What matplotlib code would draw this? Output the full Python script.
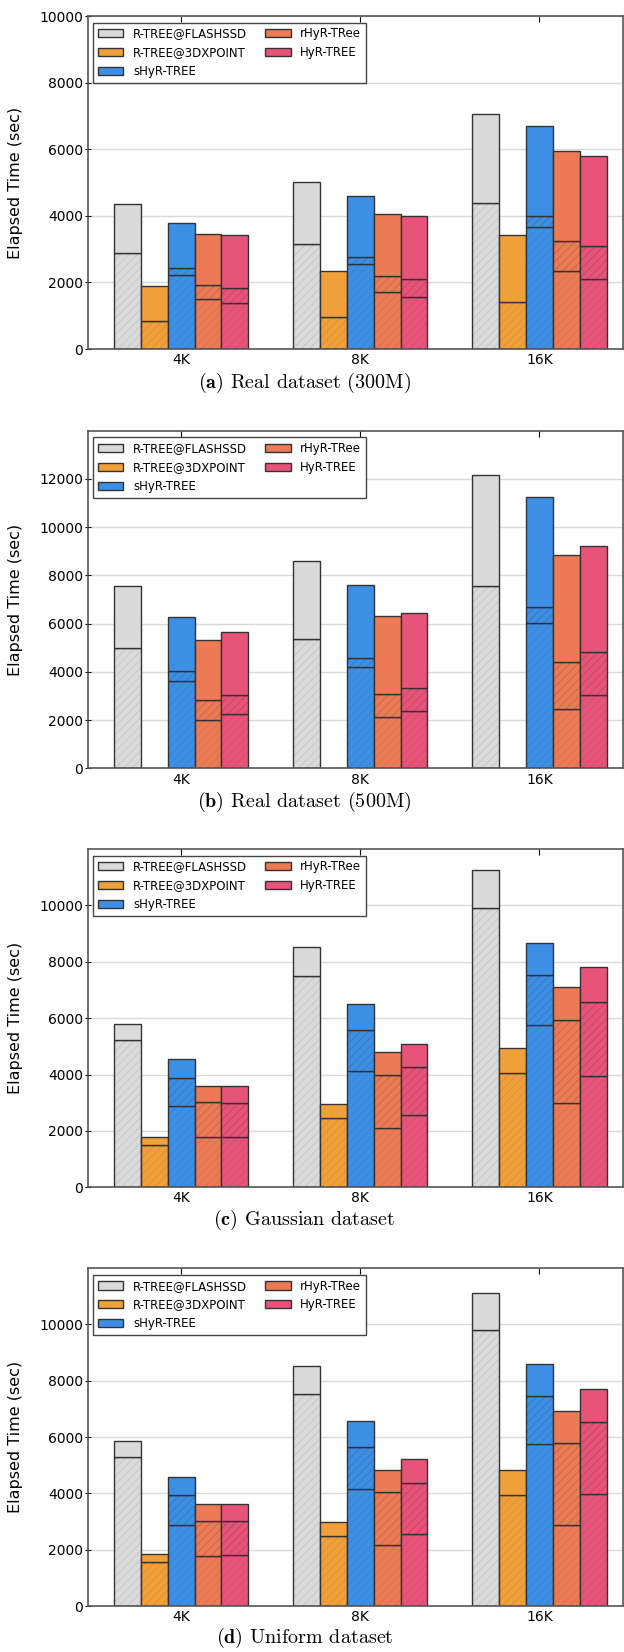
import numpy as np
import matplotlib.pyplot as plt
from matplotlib.patches import Patch

plt.rcParams['mathtext.fontset'] = 'cm'
plt.rcParams['hatch.linewidth'] = 0.8

sizes = ['4K', '8K', '16K']
names = ['R-TREE@FLASHSSD', 'R-TREE@3DXPOINT', 'sHyR-TREE', 'rHyR-TRee', 'HyR-TREE']
colors = ['#dadada', '#f0a03a', '#3d8fe5', '#eb7a55', '#e8537a']
captions = [r'$\mathbf{(a)}$ Real dataset (300M)', r'$\mathbf{(b)}$ Real dataset (500M)',
            r'$\mathbf{(c)}$ Gaussian dataset', r'$\mathbf{(d)}$ Uniform dataset']

# rows: FLASHSSD, 3DXPOINT, sHyR, rHyR, HyR ; columns: 4K, 8K, 16K
# lo = lower segment top, mid = hatched segment top, tot = bar total
a_lo = [[2880, 3150, 4380], [850, 950, 1410], [2230, 2560, 3670], [1500, 1700, 2330], [1380, 1550, 2100]]
a_mid = [[2880, 3150, 4380], [850, 950, 1410], [2430, 2760, 4010], [1910, 2200, 3240], [1820, 2100, 3090]]
a_tot = [[4360, 5030, 7070], [1890, 2330, 3420], [3790, 4600, 6710], [3460, 4050, 5950], [3430, 4010, 5800]]

b_lo = [[5000, 5380, 7550], [0, 0, 0], [3640, 4200, 6040], [2020, 2120, 2480], [2240, 2380, 3060]]
b_mid = [[5000, 5380, 7550], [0, 0, 0], [4040, 4590, 6690], [2830, 3100, 4410], [3030, 3350, 4840]]
b_tot = [[7560, 8590, 12150], [0, 0, 0], [6280, 7600, 11230], [5340, 6300, 8830], [5640, 6420, 9220]]

c_lo = [[5210, 7500, 9890], [1510, 2450, 4060], [2900, 4120, 5770], [1800, 2110, 3000], [1800, 2550, 3960]]
c_mid = [[5210, 7500, 9890], [1510, 2450, 4060], [3890, 5590, 7540], [3030, 3970, 5930], [3000, 4250, 6580]]
c_tot = [[5800, 8530, 11270], [1780, 2960, 4930], [4550, 6490, 8670], [3610, 4800, 7100], [3600, 5090, 7820]]

d_lo = [[5290, 7540, 9790], [1570, 2500, 3940], [2870, 4140, 5760], [1770, 2180, 2870], [1820, 2570, 3990]]
d_mid = [[5290, 7540, 9790], [1570, 2500, 3940], [3930, 5660, 7460], [3030, 4050, 5800], [3030, 4370, 6530]]
d_tot = [[5870, 8540, 11130], [1850, 2990, 4820], [4590, 6580, 8580], [3640, 4840, 6930], [3640, 5220, 7720]]

panels = [(a_lo, a_mid, a_tot), (b_lo, b_mid, b_tot), (c_lo, c_mid, c_tot), (d_lo, d_mid, d_tot)]
ylims = [10000, 14000, 12000, 12000]
ytop = [10000, 12000, 10000, 10000]

fig = plt.figure(figsize=(6.24, 16.52), dpi=100)
ax_boxes = [[0.141, 0.7887, 0.8574, 0.2016],
            [0.141, 0.5349, 0.8574, 0.2044],
            [0.141, 0.2813, 0.8574, 0.2048],
            [0.141, 0.0278, 0.8574, 0.2046]]
cap_y = [0.7682, 0.5147, 0.2615, 0.0085]

ind = np.arange(len(sizes))
width = 0.15

for p in range(4):
    ax = fig.add_axes(ax_boxes[p])
    lo_all, mid_all, tot_all = panels[p]
    for k in range(5):
        x = ind + (k - 2) * width
        lo = np.array(lo_all[k], float)
        mid = np.array(mid_all[k], float)
        tot = np.array(tot_all[k], float)
        base = k < 2
        segs = [(np.zeros(3), lo, 0.08 if base else 0.06), (lo, mid, 0.13), (mid, tot, 0)]
        for b0, b1, ha in segs:
            h = b1 - b0
            m = h > 0
            if not m.any():
                continue
            ax.bar(x[m], h[m], width, bottom=b0[m], color=colors[k], edgecolor='#333333', lw=1, zorder=2)
            if ha:
                ax.bar(x[m], h[m], width, bottom=b0[m], fill=False, hatch='////',
                       edgecolor=(0, 0, 0, ha), lw=0, zorder=3)

    ax.set_xlim(-0.52, 2.467)
    ax.set_ylim(0, ylims[p])
    ax.set_yticks(np.arange(0, ytop[p] + 1, 2000))
    ax.set_xticks(ind)
    ax.set_xticklabels(sizes)
    ax.set_axisbelow(True)
    ax.yaxis.grid(True, color='#d9d9d9', lw=1)
    for s in ax.spines.values():
        s.set_color('#555555')
        s.set_linewidth(1.2)
    ax.tick_params(axis='x', direction='in', top=True, length=4, pad=3, labelsize=10)
    ax.tick_params(axis='y', direction='inout', length=5, pad=1, labelsize=10)
    ax.set_ylabel('Elapsed Time (sec)', fontsize=11.5)
    ax.yaxis.set_label_coords(-0.1215, 0.5)

    handles = [Patch(facecolor=c, edgecolor='#333333') for c in colors]
    leg = ax.legend(handles, names, ncol=2, loc='upper left', bbox_to_anchor=(0.009, 0.98),
                    borderaxespad=0, fontsize=8.5, handlelength=2.2, handleheight=0.7,
                    handletextpad=0.8, columnspacing=1.5, fancybox=False, framealpha=1)
    leg.get_frame().set_edgecolor('#444444')
    leg.get_frame().set_linewidth(1)

    fig.text(0.488, cap_y[p], captions[p], family='cmr10', fontsize=14.5, ha='center', va='center')

fig.savefig('out.png', dpi=100)
